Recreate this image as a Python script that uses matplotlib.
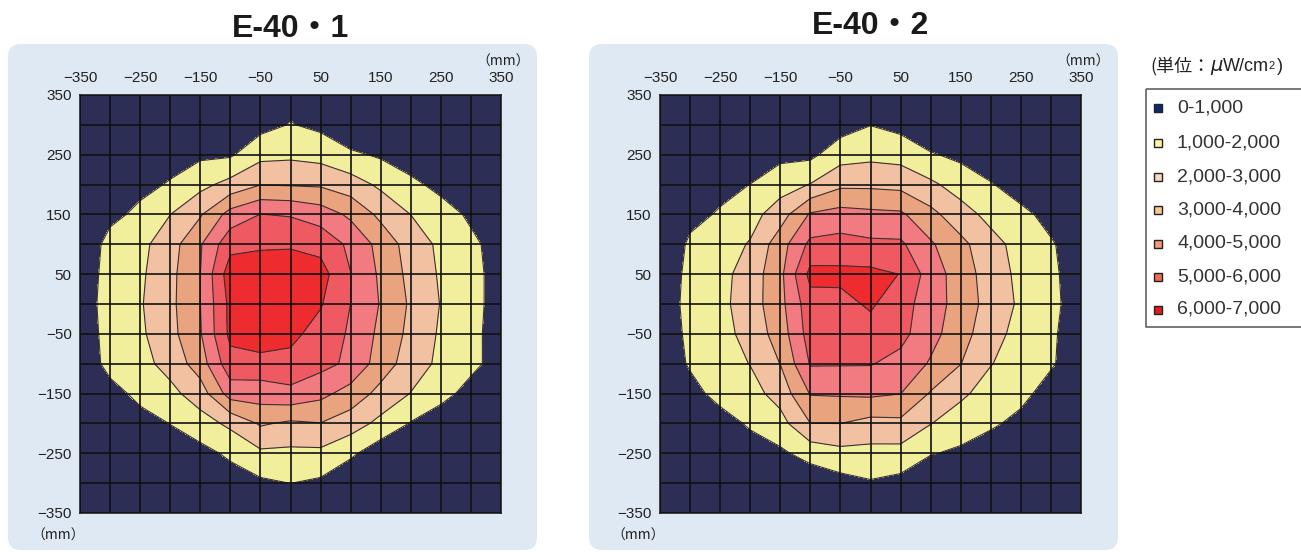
import numpy as np
import matplotlib
matplotlib.use("Agg")
import matplotlib.pyplot as plt
from matplotlib.patches import FancyBboxPatch, Rectangle

# ---------------- data ----------------
x_mm = [-350, -300, -250, -200, -150, -100, -50, 0, 50, 100, 150, 200, 250, 300, 350]
y_mm = [350, 300, 250, 200, 150, 100, 50, 0, -50, -100, -150, -200, -250, -300, -350]
tick_vals = [-350, -250, -150, -50, 50, 150, 250, 350]
levels = [0, 1000, 2000, 3000, 4000, 5000, 6000, 7000]
legend_labels = ["0-1,000", "1,000-2,000", "2,000-3,000", "3,000-4,000",
                 "4,000-5,000", "5,000-6,000", "6,000-7,000"]
titles = ["E-40・1", "E-40・2"]
unit_label = "(単位："

# irradiance (uW/cm2), rows follow y_mm, columns follow x_mm
Z1 = [
    [250, 350, 330, 420, 400, 450, 550, 700, 620, 200, 250, 200, 200, 200, 200],
    [330, 450, 450, 600, 550, 650, 667, 1050, 780, 150, 200, 250, 250, 250, 220],
    [400, 550, 620, 822, 822, 870, 1708, 1800, 1640, 1179, 867, 475, 450, 400, 350],
    [480, 650, 877, 1039, 1714, 2333, 2973, 2920, 2865, 2462, 1811, 1224, 722, 600, 450],
    [550, 877, 1105, 1990, 2895, 4385, 5016, 4920, 4529, 3806, 2755, 1990, 1419, 837, 550],
    [603, 1170, 1730, 2565, 3909, 5684, 5836, 5900, 5680, 4780, 3667, 2541, 1798, 1202, 608],
    [626, 1229, 1831, 2720, 3990, 6567, 6650, 6525, 6400, 5020, 3825, 2702, 1878, 1268, 659],
    [646, 1278, 1911, 2754, 3990, 6274, 6750, 6650, 6080, 4995, 3933, 2855, 1960, 1293, 627],
    [626, 1229, 1831, 2679, 3917, 6250, 6650, 6257, 5606, 4864, 3750, 2736, 1862, 1237, 613],
    [640, 1163, 1673, 2353, 3500, 5640, 5617, 5700, 5300, 4800, 3512, 2517, 1775, 1213, 653],
    [550, 823, 1128, 1720, 2500, 4450, 4500, 4720, 4277, 3600, 2690, 1970, 1286, 700, 550],
    [480, 600, 823, 1010, 1582, 2212, 3121, 2833, 2974, 2477, 1730, 940, 500, 500, 450],
    [400, 500, 620, 760, 673, 1189, 1810, 1771, 1771, 1194, 378, 500, 350, 350, 350],
    [330, 400, 450, 550, 500, 500, 810, 1010, 819, 150, 250, 300, 250, 250, 250],
    [250, 300, 330, 400, 380, 400, 550, 700, 550, 200, 200, 200, 200, 200, 200],
]
Z2 = [
    [250, 330, 330, 420, 400, 450, 500, 500, 450, 200, 200, 200, 200, 200, 200],
    [330, 420, 450, 600, 550, 600, 580, 980, 704, 200, 300, 300, 300, 250, 250],
    [400, 520, 600, 750, 760, 770, 1574, 1741, 1630, 1087, 778, 430, 400, 350, 300],
    [480, 650, 875, 1005, 1565, 2040, 2803, 2805, 2714, 2190, 1571, 1064, 563, 500, 400],
    [550, 876, 1044, 1620, 2540, 4111, 4372, 4241, 4163, 3286, 2404, 1705, 1229, 709, 480],
    [600, 1076, 1552, 2077, 3560, 5250, 5371, 5196, 5170, 4128, 3267, 2346, 1644, 1089, 533],
    [610, 1152, 1696, 2440, 3733, 6300, 6250, 6250, 5978, 4532, 3500, 2528, 1744, 1163, 581],
    [632, 1189, 1744, 2500, 3697, 5600, 5700, 6140, 5400, 4509, 3560, 2621, 1827, 1210, 592],
    [615, 1135, 1656, 2340, 3472, 5450, 5450, 5598, 5300, 4340, 3400, 2378, 1649, 1117, 585],
    [600, 1065, 1533, 2030, 3020, 5080, 5070, 5054, 4680, 3893, 3020, 2040, 1537, 1074, 612],
    [550, 800, 1194, 1620, 2400, 4060, 4106, 4182, 4013, 2912, 2186, 1575, 1182, 727, 480],
    [480, 650, 753, 1080, 1629, 2995, 3005, 2682, 2762, 2030, 1487, 1104, 818, 500, 400],
    [400, 500, 550, 716, 823, 1378, 1702, 1688, 1654, 1059, 829, 631, 500, 350, 300],
    [330, 400, 420, 500, 500, 300, 638, 906, 692, 200, 300, 300, 300, 250, 250],
    [250, 300, 330, 400, 380, 400, 500, 500, 450, 200, 200, 200, 200, 200, 200],
]

# ---------------- styles ----------------
fill_colors = ["#2c2e56", "#f1ef9b", "#f2c1a2", "#e9a37e", "#f27b81", "#ef5961", "#ee2b2f"]
legend_colors = ["#0d2a6b", "#fdf6a8", "#f9d8bd", "#f8c596", "#f3977e", "#ed6b4f", "#e21b23"]
panel_color = "#dfe9f4"
LAT = ["Liberation Sans", "DejaVu Sans"]
CJK = ["Noto Sans CJK JP", "DejaVu Sans"]
TITLE_FONT = ["Liberation Sans", "Noto Sans CJK JP", "DejaVu Sans"]

W, H = 1301, 552
fig = plt.figure(figsize=(W / 100, H / 100), dpi=100)
fig.patch.set_facecolor("white")

# background axes in pixel coordinates
bg = fig.add_axes([0, 0, 1, 1])
bg.set_xlim(0, W)
bg.set_ylim(H, 0)
bg.axis("off")
bg.set_zorder(0)

for x0, x1 in [(8, 537), (589, 1118)]:
    bg.add_patch(FancyBboxPatch((x0, 44), x1 - x0, 506,
                                boxstyle="round,pad=0,rounding_size=13",
                                facecolor=panel_color, edgecolor="none"))

plot_lefts = [80, 660]
title_pos = [(291, 29), (870, 26)]
Zs = [np.array(Z1, dtype=float), np.array(Z2, dtype=float)]
X, Y = np.meshgrid(np.array(x_mm, dtype=float), np.array(y_mm, dtype=float))

for k in range(2):
    left = plot_lefts[k]
    ax = fig.add_axes([left / W, 1 - 513 / H, 421 / W, 418 / H])
    ax.set_zorder(2)
    ax.contourf(X, Y, Zs[k], levels=levels, colors=fill_colors)
    ax.contour(X, Y, Zs[k], levels=levels[1:-1], colors="#3b3030", linewidths=0.8)
    ax.set_xlim(-350, 350)
    ax.set_ylim(-350, 350)
    ax.set_xticks(tick_vals)
    ax.set_yticks(tick_vals)
    ax.set_xticks(x_mm, minor=True)
    ax.set_yticks(y_mm, minor=True)
    ax.xaxis.tick_top()
    ax.tick_params(axis="both", which="both", length=0)
    ax.tick_params(axis="x", which="major", pad=7, labelsize=11, labelcolor="#222222")
    ax.tick_params(axis="y", which="major", pad=6, labelsize=11, labelcolor="#222222")
    for lab in ax.get_xticklabels() + ax.get_yticklabels():
        lab.set_family(LAT)
    ax.set_axisbelow(False)
    ax.grid(which="both", color="#111111", linewidth=1.2)
    for s in ax.spines.values():
        s.set_color("#222222")
        s.set_linewidth(1.2)

    # unit labels
    bg.text(left + 423, 62, "（mm）", ha="center", va="center", fontsize=10,
            family=CJK, color="#222222")
    bg.text(left - 22, 536, "（mm）", ha="center", va="center", fontsize=10,
            family=CJK, color="#222222")
    # title
    tx, ty = title_pos[k]
    bg.text(tx, ty, titles[k], ha="center", va="center", fontsize=23,
            fontweight="bold", family=TITLE_FONT, color="#1a1a1a")

# legend
bg.add_patch(Rectangle((1146, 89), 175, 238, fill=False, edgecolor="#555555", linewidth=1.1))
row_y = [108, 142.5, 176.5, 210, 243.5, 277, 309.5]
for lab, col, yy in zip(legend_labels, legend_colors, row_y):
    bg.add_patch(Rectangle((1154, yy - 4), 8, 8, facecolor=col, edgecolor="#222222", linewidth=1.0))
    bg.text(1177, yy, lab, ha="left", va="center", fontsize=14, family=LAT, color="#333333")

# unit caption "(単位：μW/cm²)"
t0 = bg.text(1150, 66, unit_label, ha="left", va="center", fontsize=13, family=CJK, color="#222222")
t1 = bg.annotate("μ", xy=(1, 0), xycoords=t0, ha="left", va="bottom", fontsize=14,
                 family=["DejaVu Sans"], style="italic", color="#222222")
t2 = bg.annotate("W/cm", xy=(1, 0), xycoords=t1, ha="left", va="bottom", fontsize=13,
                 family=LAT, color="#222222")
t3 = bg.annotate("2", xy=(1, 0.25), xycoords=t2, ha="left", va="bottom", fontsize=8,
                 family=LAT, color="#222222")
t4 = bg.annotate(")", xy=(1, 0), xycoords=t2, xytext=(6, 0), textcoords="offset points",
                 ha="left", va="bottom", fontsize=13, family=LAT, color="#222222")

fig.savefig("out.png", dpi=100)
